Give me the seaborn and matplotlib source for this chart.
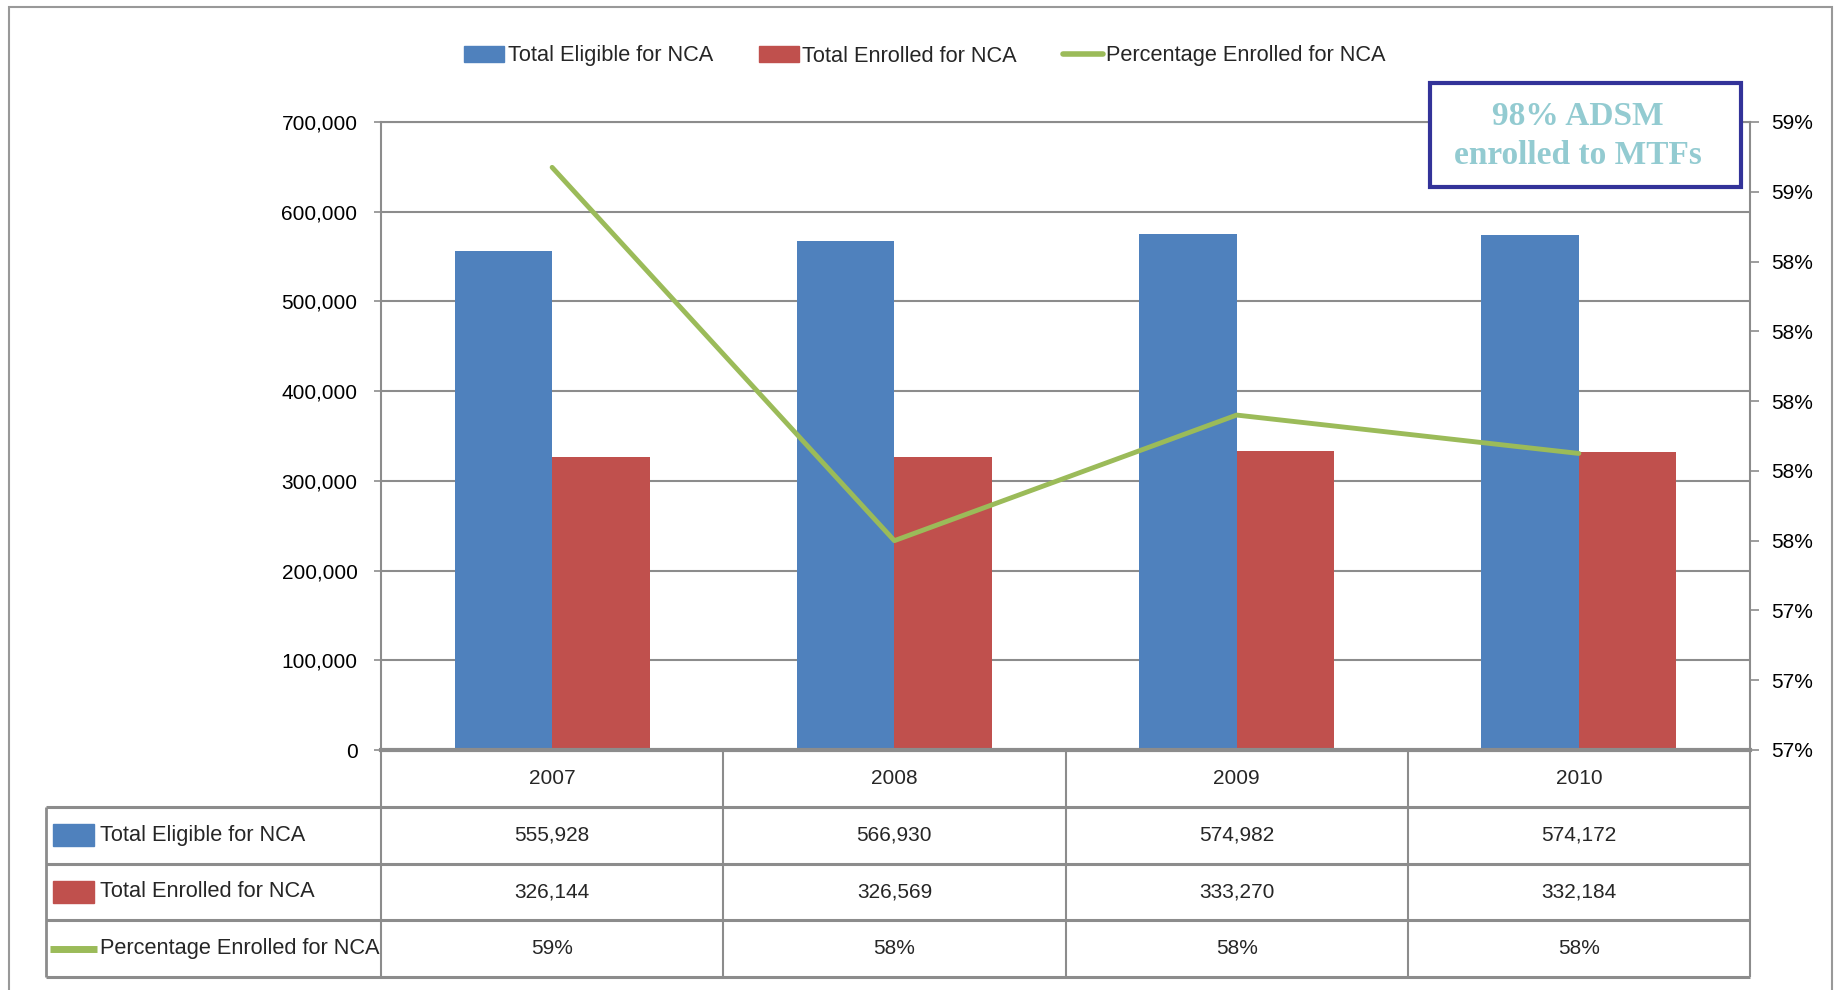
import numpy as np
import pandas as pd
import seaborn as sns
import matplotlib.pyplot as plt
from matplotlib.patches import Patch, Rectangle
from matplotlib.lines import Line2D
from matplotlib.ticker import FuncFormatter, MultipleLocator

years = ['2007', '2008', '2009', '2010']
eligible = [555928, 566930, 574982, 574172]
enrolled = [326144, 326569, 333270, 332184]
pct_enrolled = [58.67, 57.60, 57.96, 57.85]
pct_labels = ['59%', '58%', '58%', '58%']
series = ['Total Eligible for NCA', 'Total Enrolled for NCA', 'Percentage Enrolled for NCA']
note = '98% ADSM\nenrolled to MTFs'

blue, red, green = '#4f81bd', '#c0504d', '#9bbb59'
grid_c = '#8c8c8c'
num_size = 15
txt_size = 15.7

sns.set_theme(style='white')
plt.rcParams['font.family'] = ['Liberation Sans', 'DejaVu Sans']

W, H = 1835, 990
fig = plt.figure(figsize=(W / 100, H / 100), dpi=100)


def fx(px):
    return px / W


def fy(py):
    return 1 - py / H


# main chart area
ax = fig.add_axes([fx(381), fy(750), fx(1750) - fx(381), fy(122) - fy(750)])
df = pd.DataFrame({'year': years * 2,
                   'value': eligible + enrolled,
                   'series': [series[0]] * len(years) + [series[1]] * len(years)})
sns.barplot(data=df, x='year', y='value', hue='series', palette=[blue, red],
            width=0.57, saturation=1, linewidth=0, ax=ax, legend=False)
ax.set_xlim(-0.5, len(years) - 0.5)
ax.set_ylim(0, 700000)
ax.yaxis.set_major_locator(MultipleLocator(100000))
ax.yaxis.set_major_formatter(FuncFormatter(lambda v, p: f'{v:,.0f}'))
ax.set_xticks([])
ax.set_xlabel('')
ax.set_ylabel('')
ax.grid(axis='y', color=grid_c, lw=1.5)
ax.set_axisbelow(True)
for s in ['top', 'left']:
    ax.spines[s].set_color(grid_c)
    ax.spines[s].set_linewidth(1.5)
ax.spines['bottom'].set_color(grid_c)
ax.spines['bottom'].set_linewidth(3)
ax.spines['right'].set_visible(False)
ax.tick_params(axis='y', left=True, length=5, width=1.2, color=grid_c, pad=12,
               labelsize=num_size, labelcolor='black')

ax2 = ax.twinx()
sns.lineplot(x=np.arange(len(years)), y=pct_enrolled, ax=ax2, color=green, lw=3.5)
ax2.set_ylim(57, 58.8)
ax2.yaxis.set_major_locator(MultipleLocator(0.2))
ax2.yaxis.set_major_formatter(FuncFormatter(lambda v, p: f'{v:.0f}%'))
for s in ['top', 'left', 'bottom']:
    ax2.spines[s].set_visible(False)
ax2.spines['right'].set_color(grid_c)
ax2.spines['right'].set_linewidth(1.5)
ax2.tick_params(axis='y', right=True, length=6.5, width=1.2, color=grid_c, pad=9,
                labelsize=num_size, labelcolor='black')
ax2.set_ylabel('')

# legend
handles = [Patch(color=blue), Patch(color=red), Line2D([], [], color=green, lw=4)]
fig.legend(handles=handles, labels=series, loc='center', bbox_to_anchor=(fx(925), fy(56)),
           ncol=3, frameon=False, fontsize=txt_size, handlelength=1.85, handleheight=0.8,
           handletextpad=0.15, columnspacing=2.1)

# note box
fig.add_artist(Rectangle((fx(1430), fy(187)), fx(1741) - fx(1430), fy(83) - fy(187),
                         transform=fig.transFigure, facecolor='white', edgecolor='#333399',
                         lw=3, zorder=10))
fig.text(fx(1578), fy(136), note, ha='center', va='center', family='Liberation Serif',
         weight='bold', size=24, color='#93cbd1', linespacing=1.3, zorder=11)

# data table
col_w = (1750 - 381) / len(years)
axt = fig.add_axes([fx(46), fy(977), fx(1750) - fx(46), fy(750) - fy(977)])
xl = -0.5 - (381 - 46) / col_w
axt.set_xlim(xl, len(years) - 0.5)
axt.set_ylim(4, 0)
axt.axis('off')
axt.hlines([1, 2, 3, 4], xl, len(years) - 0.5, color=grid_c, lw=2.2, clip_on=False)
axt.vlines(np.arange(len(years) + 1) - 0.5, 0, 4, color=grid_c, lw=1.5, clip_on=False)
axt.vlines([xl], 1, 4, color=grid_c, lw=2, clip_on=False)

rows = [[f'{v:,}' for v in eligible], [f'{v:,}' for v in enrolled], pct_labels]
for i, y in enumerate(years):
    axt.text(i, 0.5, y, ha='center', va='center', size=num_size)
    for r, vals in enumerate(rows):
        axt.text(i, r + 1.5, vals[i], ha='center', va='center', size=num_size)

for r, (name, c) in enumerate(zip(series, [blue, red, green])):
    yc = r + 1.5
    if r < 2:
        axt.add_patch(Rectangle((xl + 7 / col_w, yc - 0.19), 41 / col_w, 0.38, color=c))
    else:
        axt.hlines([yc], xl + 4 / col_w, xl + 51 / col_w, color=c, lw=5)
    axt.text(xl + 54 / col_w, yc, name, ha='left', va='center', size=txt_size)

# outer frame
fig.add_artist(Rectangle((fx(9), -0.02), fx(1832) - fx(9), fy(7) + 0.02,
                         transform=fig.transFigure, fill=False, edgecolor='#999999', lw=1.5))

fig.savefig('out.png', dpi=100)
